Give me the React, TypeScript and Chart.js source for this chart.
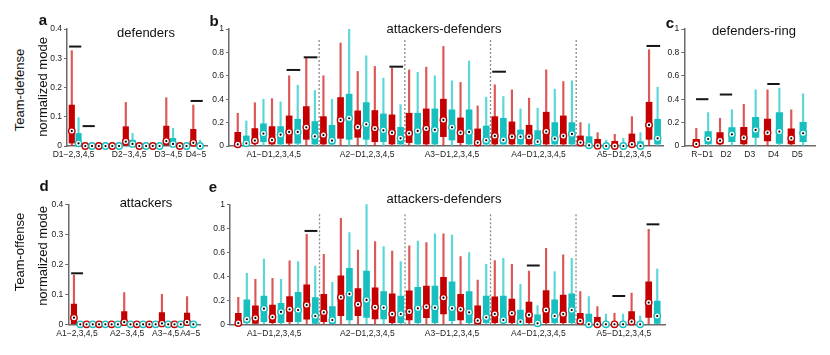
import React, { useEffect, useRef } from 'react';
import { Chart, registerables } from 'chart.js';
Chart.register(...registerables);

const FONT = "'Liberation Sans', Arial, Helvetica, sans-serif";
Chart.defaults.font.family = FONT;

const RED = '#c50000';
const CYAN = '#18bfbf';
const RED_W = 'rgba(212,40,40,0.78)';
const CYAN_W = 'rgba(50,205,205,0.8)';

// ---------- Panel a: defenders ----------
const aLabels = ['D1−2,3,4,5', 'D2−3,4,5', 'D3−4,5', 'D4−5'];
const aLabelPos = [0.27, 8.5, 14.3, 18.4];
const aHi = [0.326, 0.097, 0, 0, 0, 0, 0, 0, 0.149, 0.043, 0, 0, 0, 0, 0.165, 0.06, 0, 0, 0.14, 0.02];
const aQ3 = [0.14, 0.043, 0, 0, 0, 0, 0, 0, 0.066, 0.02, 0, 0, 0, 0, 0.068, 0.026, 0, 0, 0.057, 0];
const aQ1 = [0.01, 0.004, 0, 0, 0, 0, 0, 0, 0.003, 0, 0, 0, 0, 0, 0.003, 0.002, 0, 0, 0.003, 0];
const aMed = [0.051, 0.009, 0, 0, 0, 0, 0, 0, 0.015, 0.007, 0, 0, 0, 0, 0.017, 0.007, 0, 0, 0.011, 0];
const aSigPairs = [0, 1, 9];
const aSigY = [0.34, 0.068, 0.154];

// ---------- Panel b: attackers-defenders (team-defense) ----------
const bLabels = ['A1−D1,2,3,4,5', 'A2−D1,2,3,4,5', 'A3−D1,2,3,4,5', 'A4−D1,2,3,4,5', 'A5−D1,2,3,4,5'];
const bLabelPos = [4.2, 15.1, 25.0, 35.1, 45.1];
const bQ3 = [0.117, 0.086, 0.149, 0.19, 0.166, 0.166, 0.257, 0.229, 0.337, 0.209,
  0.251, 0.177, 0.414, 0.443, 0.30, 0.371, 0.303, 0.274, 0.266, 0.16,
  0.28, 0.28, 0.317, 0.317, 0.40, 0.309, 0.24, 0.309, 0.146, 0.171,
  0.251, 0.237, 0.206, 0.137, 0.177, 0.131, 0.289, 0.20, 0.257, 0.20,
  0.086, 0.08, 0.057, 0, 0.04, 0, 0.103, 0.037, 0.374, 0.229];
const bQ1 = [0, 0, 0.023, 0.037, 0.017, 0.017, 0.023, 0.023, 0.057, 0.017,
  0.017, 0.017, 0.066, 0.057, 0.074, 0.057, 0.037, 0.037, 0.017, 0.017,
  0.029, 0.017, 0.017, 0.017, 0.08, 0.051, 0.029, 0.017, 0, 0.017,
  0.017, 0.017, 0.017, 0.017, 0.017, 0, 0.017, 0.017, 0.017, 0.017,
  0.008, 0, 0, 0, 0, 0, 0, 0, 0.057, 0.017];
const bMed = [0.014, 0.023, 0.046, 0.106, 0.051, 0.097, 0.12, 0.12, 0.16, 0.083,
  0.094, 0.046, 0.223, 0.237, 0.163, 0.186, 0.149, 0.134, 0.114, 0.066,
  0.109, 0.129, 0.149, 0.137, 0.223, 0.16, 0.114, 0.12, 0.029, 0.049,
  0.086, 0.051, 0.08, 0.08, 0.08, 0.037, 0.123, 0.063, 0.086, 0.103,
  0.029, 0.006, 0.003, 0, 0, 0, 0.014, 0, 0.18, 0.066];
const bHi = [0.28, 0.214, 0.37, 0.40, 0.405, 0.377, 0.60, 0.52, 0.75, 0.474,
  0.60, 0.40, 0.88, 1.0, 0.637, 0.771, 0.68, 0.58, 0.666, 0.354,
  0.65, 0.63, 0.674, 0.60, 0.851, 0.557, 0.543, 0.726, 0.343, 0.417,
  0.523, 0.423, 0.48, 0.317, 0.409, 0.323, 0.651, 0.486, 0.551, 0.557,
  0.20, 0.19, 0.114, 0.05, 0.10, 0.066, 0.251, 0.114, 0.823, 0.503];
const bSigPairs = [3, 4, 9, 15, 24];
const bSigY = [0.65, 0.758, 0.678, 0.635, 0.855];
const groupSeparators = [9.5, 19.5, 29.5, 39.5];

// ---------- Panel c: defenders-ring ----------
const cLabels = ['R−D1', 'D2', 'D3', 'D4', 'D5'];
const cLabelPos = [0.5, 2.5, 4.5, 6.5, 8.5];
const cQ3 = [0.057, 0.123, 0.114, 0.157, 0.16, 0.246, 0.231, 0.286, 0.146, 0.203];
const cQ1 = [0, 0.017, 0.017, 0.037, 0.017, 0.074, 0.043, 0.023, 0.017, 0.037];
const cMed = [0.017, 0.06, 0.046, 0.1, 0.071, 0.137, 0.114, 0.123, 0.066, 0.109];
const cHi = [0.151, 0.286, 0.237, 0.309, 0.357, 0.48, 0.48, 0.494, 0.309, 0.446];
const cSigPairs = [0, 1, 3];
const cSigY = [0.40, 0.44, 0.53];

// ---------- Panel d: attackers ----------
const dLabels = ['A1−2,3,4,5', 'A2−3,4,5', 'A3−4,5', 'A4−5'];
const dLabelPos = [0.48, 8.47, 14.6, 18.5];
const dHi = [0.164, 0, 0, 0, 0, 0, 0, 0, 0.106, 0, 0, 0, 0, 0, 0.1, 0, 0, 0, 0.092, 0];
const dQ3 = [0.067, 0, 0, 0, 0, 0, 0, 0, 0.042, 0, 0, 0, 0, 0, 0.039, 0, 0, 0, 0.037, 0];
const dQ1 = [0, 0, 0, 0, 0, 0, 0, 0, 0.003, 0, 0, 0, 0, 0, 0.003, 0, 0, 0, 0.003, 0];
const dMed = [0.022, 0, 0, 0, 0, 0, 0, 0, 0.007, 0, 0, 0, 0, 0, 0.003, 0, 0, 0, 0.007, 0];
const dSigPairs = [0];
const dSigY = [0.17];

// ---------- Panel e: attackers-defenders (team-offense) ----------
const eLabels = bLabels;
const eLabelPos = [4.2, 15.1, 25.0, 35.1, 45.1];
const eQ3 = [0.092, 0.203, 0.153, 0.236, 0.161, 0.175, 0.23, 0.267, 0.328, 0.222,
  0.25, 0.147, 0.403, 0.467, 0.297, 0.444, 0.303, 0.272, 0.253, 0.236,
  0.278, 0.308, 0.319, 0.319, 0.392, 0.353, 0.25, 0.272, 0.153, 0.236,
  0.228, 0.236, 0.211, 0.119, 0.186, 0.078, 0.281, 0.203, 0.244, 0.253,
  0.092, 0.086, 0.058, 0, 0, 0, 0.106, 0, 0.353, 0.194];
const eQ1 = [0, 0.014, 0.008, 0.022, 0.014, 0.014, 0.022, 0.022, 0.042, 0.008,
  0.022, 0.008, 0.072, 0.036, 0.072, 0.058, 0.044, 0.044, 0.014, 0.014,
  0.036, 0.014, 0.056, 0.014, 0.086, 0.031, 0.036, 0.014, 0, 0.014,
  0.014, 0.014, 0.014, 0.008, 0.014, 0, 0.014, 0.014, 0.014, 0.014,
  0.008, 0, 0, 0, 0, 0, 0.014, 0, 0.058, 0.008];
const eMed = [0.011, 0.042, 0.053, 0.13, 0.061, 0.103, 0.125, 0.119, 0.161, 0.069,
  0.1, 0.036, 0.225, 0.253, 0.167, 0.203, 0.142, 0.139, 0.086, 0.086,
  0.106, 0.133, 0.147, 0.139, 0.222, 0.133, 0.125, 0.1, 0.031, 0.058,
  0.086, 0.036, 0.092, 0.022, 0.078, 0.008, 0.119, 0.069, 0.086, 0.119,
  0.028, 0, 0, 0, 0, 0, 0.022, 0, 0.181, 0.069];
const eHi = [0.225, 0.425, 0.375, 0.544, 0.383, 0.375, 0.528, 0.522, 0.75, 0.486,
  0.583, 0.35, 0.883, 0.764, 0.619, 1.0, 0.689, 0.647, 0.611, 0.522,
  0.653, 0.694, 0.68, 0.753, 0.753, 0.744, 0.564, 0.597, 0.369, 0.5,
  0.531, 0.55, 0.5, 0.333, 0.444, 0.156, 0.633, 0.439, 0.578, 0.55,
  0.272, 0.231, 0.147, 0.086, 0.092, 0.086, 0.26, 0.069, 0.792, 0.461];
const eSigPairs = [4, 17, 22, 24];
const eSigY = [0.778, 0.49, 0.236, 0.833];

const SEP_TOP = 0.92;

type Spec = {
  left: number; top: number; width: number; height: number;
  yWidth: number; xHeight: number; padTop: number; padRight: number;
  xMin: number; xMax: number; yMax: number; yStep: number;
  boxW: number; sigHalf: number;
  q1: number[]; q3: number[]; med: number[]; hi: number[];
  labels: string[]; labelPos: number[];
  sigPairs: number[]; sigY: number[]; seps: number[];
};

const panels: Spec[] = [
  { left: 30, top: 0, width: 185, height: 170, yWidth: 37, xHeight: 24, padTop: 29, padRight: 8,
    xMin: -0.71, xMax: 20.03, yMax: 0.4, yStep: 0.1, boxW: 5.5, sigHalf: 0.9,
    q1: aQ1, q3: aQ3, med: aMed, hi: aHi, labels: aLabels, labelPos: aLabelPos,
    sigPairs: aSigPairs, sigY: aSigY, seps: [] },
  { left: 195, top: 0, width: 475, height: 170, yWidth: 34, xHeight: 24, padTop: 29, padRight: 7,
    xMin: -1.02, xMax: 49.63, yMax: 1, yStep: 0.2, boxW: 6, sigHalf: 0.8,
    q1: bQ1, q3: bQ3, med: bMed, hi: bHi, labels: bLabels, labelPos: bLabelPos,
    sigPairs: bSigPairs, sigY: bSigY, seps: groupSeparators },
  { left: 650, top: 0, width: 175, height: 170, yWidth: 34.3, xHeight: 24, padTop: 29, padRight: 10,
    xMin: -1.01, xMax: 10.0, yMax: 1, yStep: 0.2, boxW: 6.5, sigHalf: 0.52,
    q1: cQ1, q3: cQ3, med: cMed, hi: cHi, labels: cLabels, labelPos: cLabelPos,
    sigPairs: cSigPairs, sigY: cSigY, seps: [] },
  { left: 30, top: 175, width: 180, height: 175, yWidth: 38.3, xHeight: 25.7, padTop: 29.3, padRight: 10,
    xMin: -0.9, xMax: 20.06, yMax: 0.4, yStep: 0.1, boxW: 5.5, sigHalf: 0.95,
    q1: dQ1, q3: dQ3, med: dMed, hi: dHi, labels: dLabels, labelPos: dLabelPos,
    sigPairs: dSigPairs, sigY: dSigY, seps: [] },
  { left: 195, top: 175, width: 480, height: 175, yWidth: 35, xHeight: 25.7, padTop: 29.3, padRight: 9.3,
    xMin: -0.97, xMax: 49.99, yMax: 1, yStep: 0.2, boxW: 6, sigHalf: 0.75,
    q1: eQ1, q3: eQ3, med: eMed, hi: eHi, labels: eLabels, labelPos: eLabelPos,
    sigPairs: eSigPairs, sigY: eSigY, seps: groupSeparators },
];

function buildConfig(p: Spec): any {
  const n = p.med.length;
  const idx = Array.from({ length: n }, (_, i) => i);
  const isRed = (i: number) => i % 2 === 0;
  const datasets: any[] = [];
  datasets.push({
    type: 'bar', order: 5, grouped: false, barThickness: 1.5,
    data: idx.map(i => ({ x: i, y: [0, p.hi[i]] })),
    backgroundColor: idx.map(i => (isRed(i) ? RED_W : CYAN_W)),
  });
  datasets.push({
    type: 'bar', order: 4, grouped: false, barThickness: p.boxW,
    data: idx.map(i => ({ x: i, y: [p.q1[i], p.q3[i]] })),
    backgroundColor: idx.map(i => (isRed(i) ? RED : CYAN)),
  });
  datasets.push({
    type: 'scatter', order: 2, clip: false,
    data: idx.map(i => ({ x: i, y: p.med[i] })),
    pointRadius: 3.2, pointBorderWidth: 1.4,
    pointBackgroundColor: '#ffffff',
    pointBorderColor: idx.map(i => (isRed(i) ? RED : CYAN)),
  });
  datasets.push({
    type: 'scatter', order: 1, clip: false,
    data: idx.map(i => ({ x: i, y: p.med[i] })),
    pointRadius: 1.1, pointBorderWidth: 0, pointBackgroundColor: '#000000',
  });
  p.seps.forEach(s => {
    datasets.push({
      type: 'line', order: 6, clip: false,
      data: [{ x: s, y: 0 }, { x: s, y: SEP_TOP }],
      borderColor: '#8c8c8c', borderWidth: 1.3, borderDash: [2, 2], pointRadius: 0,
    });
  });
  p.sigPairs.forEach((pair, k) => {
    const c = 2 * pair + 0.5;
    datasets.push({
      type: 'line', order: 3, clip: false,
      data: [{ x: c - p.sigHalf, y: p.sigY[k] }, { x: c + p.sigHalf, y: p.sigY[k] }],
      borderColor: '#151515', borderWidth: 2, pointRadius: 0,
    });
  });

  return {
    type: 'bar',
    data: { datasets },
    options: {
      animation: false,
      responsive: false,
      maintainAspectRatio: false,
      events: [],
      layout: { padding: { top: p.padTop, right: p.padRight, left: 0, bottom: 0 } },
      plugins: { legend: { display: false }, tooltip: { enabled: false }, title: { display: false } },
      scales: {
        x: {
          type: 'linear', min: p.xMin, max: p.xMax, offset: false,
          grid: { display: false, drawTicks: false },
          border: { color: '#6a6a6a', width: 1.5 },
          ticks: {
            autoSkip: false, maxRotation: 0, minRotation: 0, padding: 4,
            color: '#222', font: { size: 8.5, family: FONT },
            callback: (_v: any, i: number) => p.labels[i] ?? '',
          },
          afterBuildTicks: (s: any) => { s.ticks = p.labelPos.map(v => ({ value: v })); },
          afterFit: (s: any) => { s.height = p.xHeight; },
        },
        y: {
          type: 'linear', min: 0, max: p.yMax,
          grid: { drawOnChartArea: false, drawTicks: true, tickLength: 3, color: '#6a6a6a' },
          border: { color: '#6a6a6a', width: 1.5 },
          ticks: {
            stepSize: p.yStep, padding: 2, color: '#222', font: { size: 8.5, family: FONT },
            callback: (v: any) => String(Math.round(Number(v) * 10) / 10),
          },
          afterFit: (s: any) => { s.width = p.yWidth; },
        },
      },
    },
  };
}

function Panel({ spec }: { spec: Spec }) {
  const ref = useRef<HTMLCanvasElement>(null);
  useEffect(() => {
    const chart = new Chart(ref.current as HTMLCanvasElement, buildConfig(spec));
    return () => chart.destroy();
  }, [spec]);
  return (
    <canvas
      ref={ref}
      width={spec.width}
      height={spec.height}
      style={{ position: 'absolute', left: spec.left, top: spec.top, width: spec.width, height: spec.height }}
    />
  );
}

function Txt({ x, y, text, size = 13, bold = false, rotate = false }:
  { x: number; y: number; text: string; size?: number; bold?: boolean; rotate?: boolean }) {
  return (
    <div
      style={{
        position: 'absolute', left: x, top: y, fontFamily: FONT, fontSize: size,
        fontWeight: bold ? 700 : 400, lineHeight: 1, whiteSpace: 'nowrap', color: '#111',
        transform: `translate(-50%, -50%)${rotate ? ' rotate(-90deg)' : ''}`,
      }}
    >
      {text}
    </div>
  );
}

export default function App() {
  return (
    <div style={{ position: 'absolute', left: 0, top: 0, width: 830, height: 355, background: '#fff', overflow: 'hidden' }}>
      {panels.map((p, i) => <Panel key={i} spec={p} />)}
      <Txt x={43} y={19} text="a" size={15} bold />
      <Txt x={214} y={20} text="b" size={15} bold />
      <Txt x={670} y={22} text="c" size={15} bold />
      <Txt x={44} y={185} text="d" size={15} bold />
      <Txt x={213} y={186} text="e" size={15} bold />
      <Txt x={146} y={32} text="defenders" />
      <Txt x={444} y={28} text="attackers-defenders" />
      <Txt x={754} y={29.5} text="defenders-ring" />
      <Txt x={146} y={202} text="attackers" />
      <Txt x={444} y={198} text="attackers-defenders" />
      <Txt x={18.5} y={90} text="Team-defense" rotate />
      <Txt x={41.5} y={87} text="normalized mode" rotate />
      <Txt x={18.5} y={252} text="Team-offense" rotate />
      <Txt x={41.5} y={256} text="normalized mode" rotate />
    </div>
  );
}
